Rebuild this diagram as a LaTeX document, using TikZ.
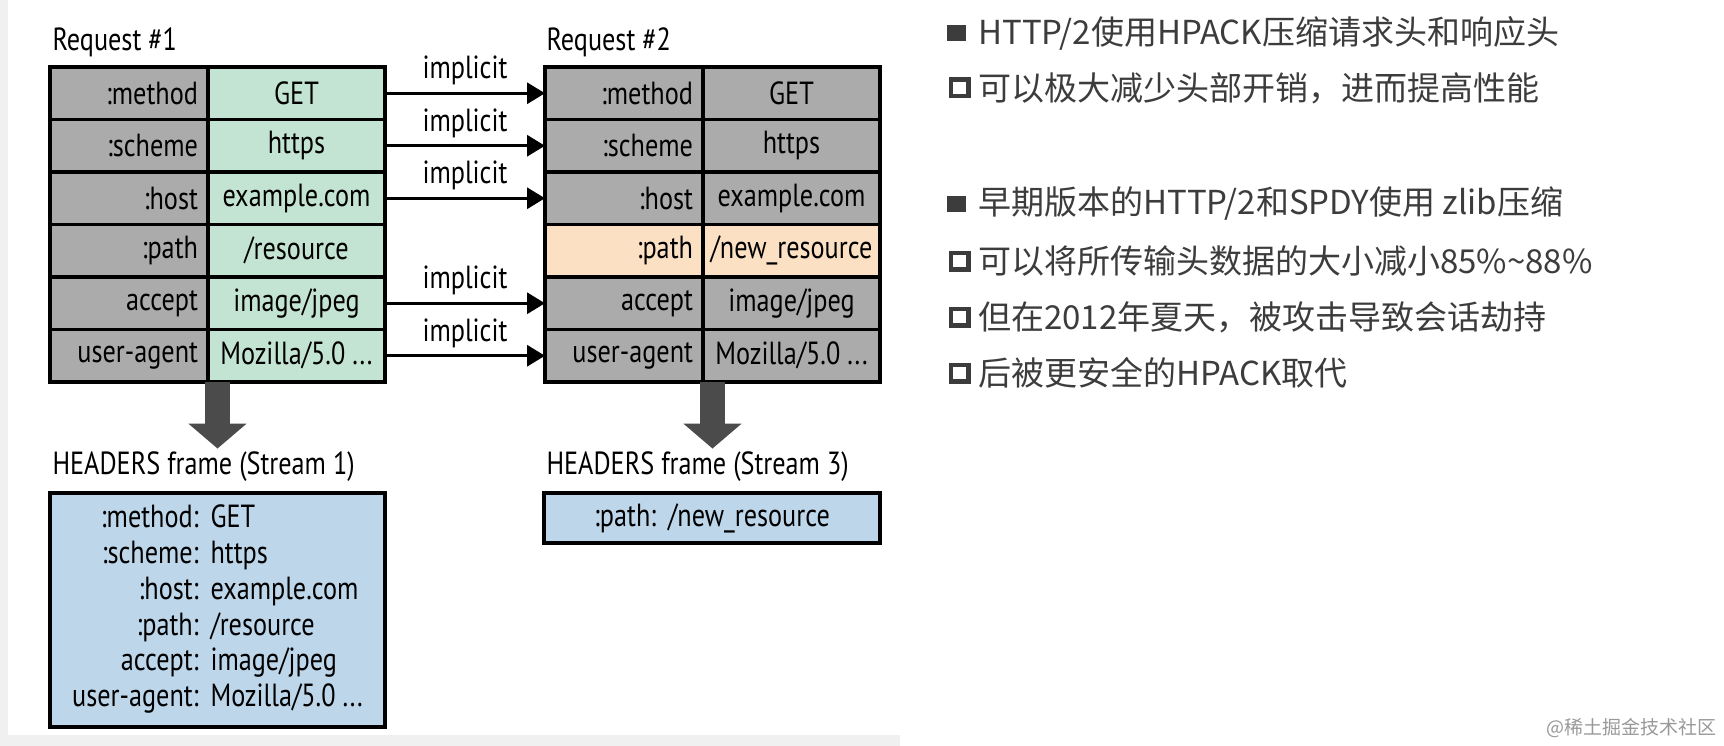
\documentclass[tikz,border=0pt]{standalone}
\usepackage{fontspec}
\usetikzlibrary{arrows.meta,positioning,calc}
\newfontfamily\figfont[FakeStretch=0.82]{PT Sans}
\newfontfamily\cjk{Noto Sans CJK SC}
\definecolor{keygray}{HTML}{ABABAB}
\definecolor{valgreen}{HTML}{C4E4D3}
\definecolor{newpeach}{HTML}{FBE0C3}
\definecolor{frameblue}{HTML}{BDD6EA}
\definecolor{arrowgray}{HTML}{4B4B4B}
\definecolor{slidetext}{HTML}{3C3C3C}
\definecolor{edgegray}{HTML}{F0F0F0}
\begin{document}
\begin{tikzpicture}[x=1pt, y=-1pt,
font=\figfont\fontsize{32}{38}\selectfont,
cell/.style={draw, line width=3.5pt, minimum height=52.5pt, inner xsep=10pt, inner ysep=0pt, outer sep=0pt},
keycell/.style={cell, text width=138pt, align=right},
valcell/.style={cell, inner xsep=2pt, minimum width=177pt},
implicit arrow/.style={line width=3.2pt, -{Triangle[length=18pt, width=21pt]}},
down arrow/.style={arrowgray, line width=25pt, -{Triangle[length=25pt, width=57pt]}},
framebox/.style={draw, fill=frameblue, line width=3.5pt, outer sep=0pt},
solidbullet/.style={fill=slidetext, minimum width=19pt, minimum height=16pt, inner sep=0pt},
boxbullet/.style={draw=slidetext, line width=4.5pt, minimum width=17.5pt, minimum height=16.5pt, inner sep=0pt},
slidetxt/.style={anchor=west, inner sep=0pt, text=slidetext, font=\cjk\fontsize{33}{38}\selectfont}]
\useasboundingbox (0,0) rectangle (1724,746);
\fill[edgegray] (0,0) rectangle (8,746);
\fill[edgegray] (0,735) rectangle (900,746);

% Request #1
\node[anchor=west] (r1) at (49,42) {Request \#1};
\foreach \k/\v [count=\i] in {{:method}/{GET}, {:scheme}/{https}, {:host}/{example.com},
    {:path}/{/resource}, {accept}/{image/jpeg}, {user-agent}/{Mozilla/5.0 ...}} {
  \node[keycell, fill=keygray] (k1r\i) at (129, 40.75+52.5*\i) {\k};
  \node[valcell, fill=valgreen, right=0pt of k1r\i] (v1r\i) {\v};
}

% Request #2
\node[anchor=west] (r2) at (543,42) {Request \#2};
\foreach \k/\v/\c [count=\i] in {{:method}/{GET}/keygray, {:scheme}/{https}/keygray,
    {:host}/{example.com}/keygray, {:path}/{/new\_resource}/newpeach,
    {accept}/{image/jpeg}/keygray, {user-agent}/{Mozilla/5.0 ...}/keygray} {
  \node[keycell, fill=\c] (k2r\i) at (624, 40.75+52.5*\i) {\k};
  \node[valcell, fill=\c, right=0pt of k2r\i] (v2r\i) {\v};
}

\foreach \i in {1,2,3,5,6}
  \draw[implicit arrow] (v1r\i) -- (k2r\i) node[midway, above=3pt] {implicit};

% HEADERS frames
\node[anchor=west] (h1) at (49,467) {HEADERS frame (Stream 1)};
\node[anchor=west] (h2) at (543,467) {HEADERS frame (Stream 3)};
\coordinate (t1s) at ($(k1r6.south west)!0.5!(v1r6.south east)$);
\coordinate (t2s) at ($(k2r6.south west)!0.5!(v2r6.south east)$);
\draw[down arrow] (t1s) -- (t1s |- h1.north);
\draw[down arrow] (t2s) -- (t2s |- h2.north);

\node[framebox, minimum width=335pt, minimum height=234pt, anchor=north west] (f1) at (50,493)
  {\fontsize{32}{35.8}\selectfont
   \begin{tabular}{@{}r@{\hspace{12pt}}l@{}}
   :method: & GET\\
   :scheme: & https\\
   :host: & example.com\\
   :path: & /resource\\
   accept: & image/jpeg\\
   user-agent: & Mozilla/5.0 ...
   \end{tabular}};
\node[framebox, minimum width=336pt, minimum height=50pt, anchor=north west] (f2) at (544,493)
  {:path:\hspace{12pt}/new\_resource};

% slide text
\node[solidbullet] (b1) at (956.5,33) {};
\node[slidetxt] (l1) at (978,33) {HTTP/2使用HPACK压缩请求头和响应头};
\node[boxbullet] (b2) at (959.5,88) {};
\node[slidetxt] (l2) at (978,88) {可以极大减少头部开销，进而提高性能};
\node[solidbullet] (b3) at (956.5,204) {};
\node[slidetxt] (l3) at (978,204) {早期版本的HTTP/2和SPDY使用 zlib压缩};
\node[boxbullet] (b4) at (959.5,261) {};
\node[slidetxt] (l4) at (978,261) {可以将所传输头数据的大小减小85\%\textasciitilde88\%};
\node[boxbullet] (b5) at (959.5,317) {};
\node[slidetxt] (l5) at (978,317) {但在2012年夏天，被攻击导致会话劫持};
\node[boxbullet] (b6) at (959.5,373) {};
\node[slidetxt] (l6) at (978,373) {后被更安全的HPACK取代};

\node[anchor=east, inner sep=0pt, text=black!40, font=\cjk\fontsize{19}{22}\selectfont] (wm) at (1717,728) {@稀土掘金技术社区};
\end{tikzpicture}
\end{document}
